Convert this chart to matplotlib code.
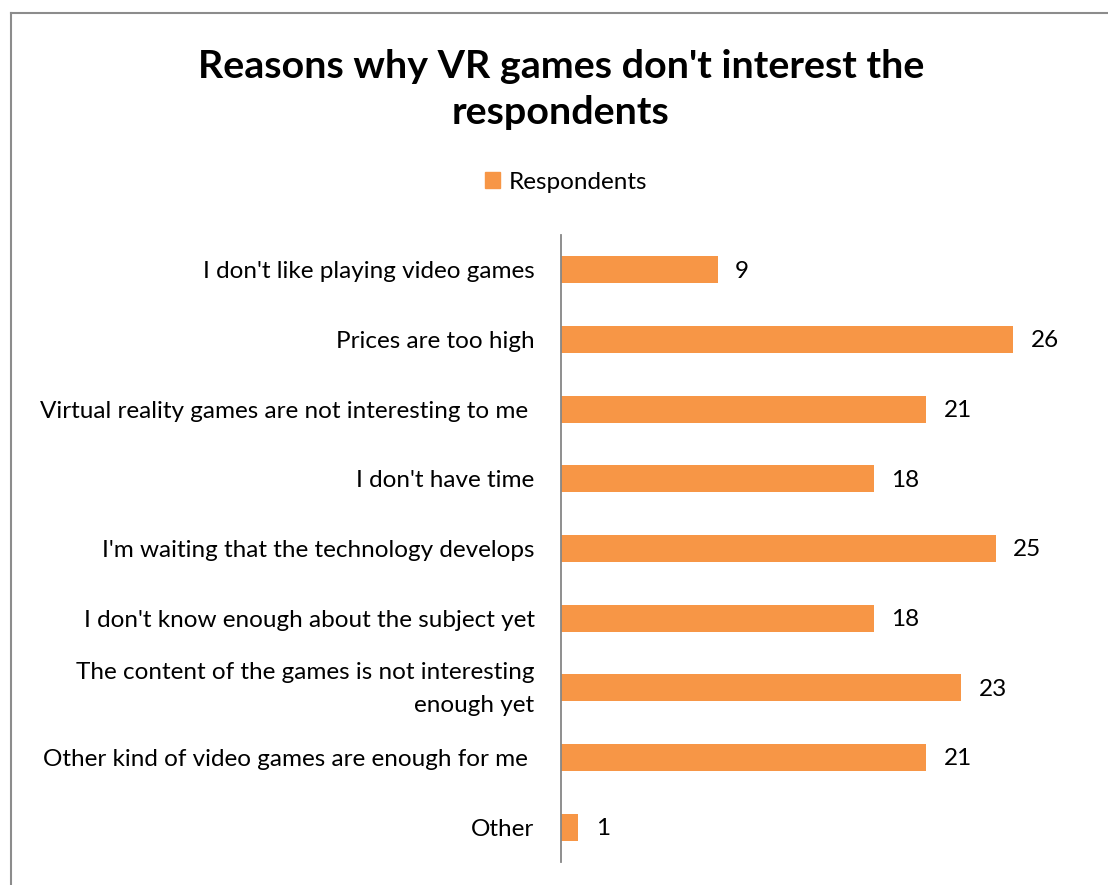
import matplotlib
matplotlib.use("Agg")
import matplotlib.pyplot as plt
import matplotlib.transforms as mtransforms
from matplotlib.lines import Line2D
from matplotlib.patches import Patch

categories = [
    "I don't like playing video games",
    "Prices are too high",
    "Virtual reality games are not interesting to me ",
    "I don't have time",
    "I'm waiting that the technology develops",
    "I don't know enough about the subject yet",
    "The content of the games is not interesting\nenough yet",
    "Other kind of video games are enough for me ",
    "Other",
]
respondents = [9, 26, 21, 18, 25, 18, 23, 21, 1]

title = "Reasons why VR games don't interest the\nrespondents"
series_name = "Respondents"

BAR = "#F79646"
FONT = "Lato"
LABEL_SIZE = 17.5

fig = plt.figure(figsize=(11.08, 8.85), dpi=100)
ax = fig.add_axes([0.5063, 0.026, 0.4711, 0.7085])

ypos = list(range(len(categories)))
ax.barh(ypos, respondents, height=0.39, color=BAR)
ax.set_xlim(0, 30)
ax.set_ylim(len(categories) - 0.5, -0.5)

ax.set_yticks(ypos)
ax.set_yticklabels(categories, fontsize=LABEL_SIZE, family=FONT, color="#000000",
                   linespacing=1.7)
ax.tick_params(axis="y", length=0, pad=19)
ax.set_xticks([])
for side in ("top", "right", "bottom"):
    ax.spines[side].set_visible(False)
ax.spines["left"].set_color("#868686")
ax.spines["left"].set_linewidth(1.3)

# lift wrapped labels slightly so the block sits centred on its bar
lift = mtransforms.ScaledTranslation(0, 5 / 72, fig.dpi_scale_trans)
for lbl in ax.get_yticklabels():
    if "\n" in lbl.get_text():
        lbl.set_transform(lbl.get_transform() + lift)

for y, v in zip(ypos, respondents):
    ax.annotate(str(v), (v, y), xytext=(12.5, -1), textcoords="offset points",
                ha="left", va="center", fontsize=LABEL_SIZE, family=FONT,
                color="#000000")

fig.text(0.5063, 0.8990, title, ha="center", va="center", fontsize=28.4,
         fontweight="bold", family=FONT, linespacing=1.4)

fig.legend(handles=[Patch(color=BAR, label=series_name)], loc="center",
           bbox_to_anchor=(0.511, 0.794), frameon=False,
           prop={"family": FONT, "size": LABEL_SIZE}, handlelength=0.62,
           handleheight=0.62, handletextpad=0.35)

# outer chart frame
fig.add_artist(Line2D([0.0099, 1.0], [0.9848, 0.9848], transform=fig.transFigure,
                      color="#8c8c8c", lw=1.5))
fig.add_artist(Line2D([0.0099, 0.0099], [0.0, 0.9848], transform=fig.transFigure,
                      color="#8c8c8c", lw=1.5))

fig.savefig("out.png", dpi=100, facecolor="white")
